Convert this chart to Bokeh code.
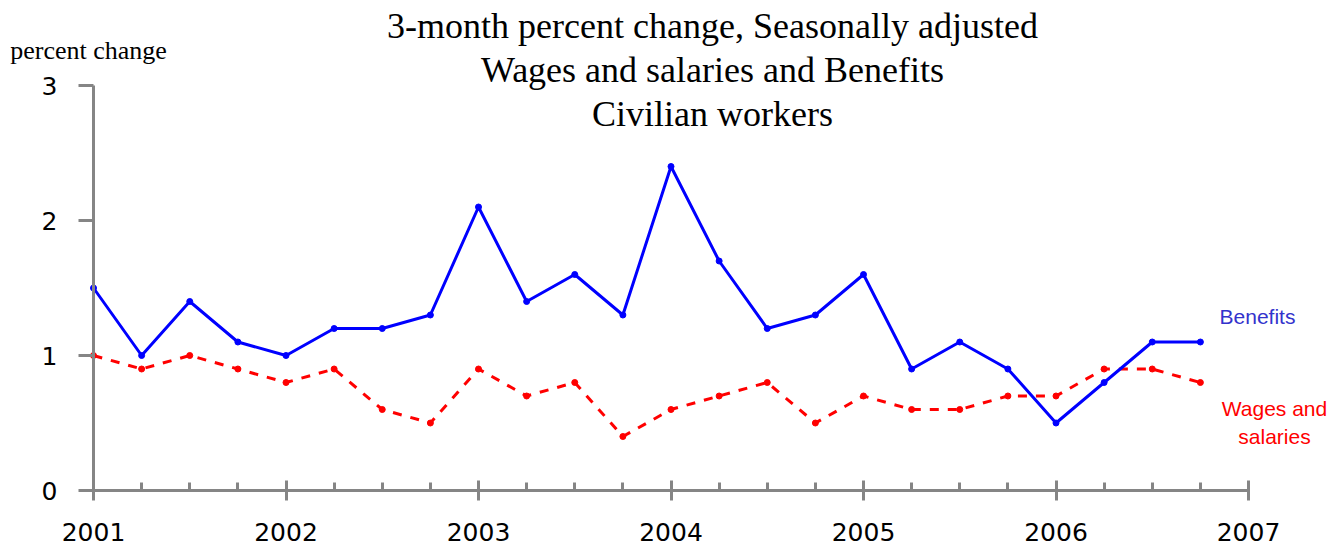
from bokeh.plotting import figure
from bokeh.models import Range1d, FixedTicker, Label, ColumnDataSource
from bokeh.embed import file_html
from bokeh.resources import INLINE

# ---- data ----
periods = [2001.00, 2001.25, 2001.50, 2001.75,
           2002.00, 2002.25, 2002.50, 2002.75,
           2003.00, 2003.25, 2003.50, 2003.75,
           2004.00, 2004.25, 2004.50, 2004.75,
           2005.00, 2005.25, 2005.50, 2005.75,
           2006.00, 2006.25, 2006.50, 2006.75]
benefits = [1.5, 1.0, 1.4, 1.1,
            1.0, 1.2, 1.2, 1.3,
            2.1, 1.4, 1.6, 1.3,
            2.4, 1.7, 1.2, 1.3,
            1.6, 0.9, 1.1, 0.9,
            0.5, 0.8, 1.1, 1.1]
wages = [1.0, 0.9, 1.0, 0.9,
         0.8, 0.9, 0.6, 0.5,
         0.9, 0.7, 0.8, 0.4,
         0.6, 0.7, 0.8, 0.5,
         0.7, 0.6, 0.6, 0.7,
         0.7, 0.9, 0.9, 0.8]
year_ticks = [2001, 2002, 2003, 2004, 2005, 2006, 2007]
quarter_ticks = [2001.25, 2001.5, 2001.75, 2002.25, 2002.5, 2002.75,
                 2003.25, 2003.5, 2003.75, 2004.25, 2004.5, 2004.75,
                 2005.25, 2005.5, 2005.75, 2006.25, 2006.5, 2006.75]
y_ticks = [0, 1, 2, 3]
title_lines = ["3-month percent change, Seasonally adjusted",
               "Wages and salaries and Benefits",
               "Civilian workers"]
y_label = "percent change"
series_names = ["Benefits", "Wages and\nsalaries"]

# ---- layout constants (pixel mapping) ----
W, H = 1340, 550
PX_PER_YEAR = 192.5
PX_PER_UNIT = 135.0
X_2001_PX = 93
Y_ZERO_PX = 490
x0 = 2001 - X_2001_PX / PX_PER_YEAR
x1 = x0 + W / PX_PER_YEAR
y_top = Y_ZERO_PX / PX_PER_UNIT
y_bot = y_top - H / PX_PER_UNIT

p = figure(width=W, height=H, output_backend="svg", toolbar_location=None,
           x_range=Range1d(x0, x1), y_range=Range1d(y_bot, y_top),
           min_border=0, min_border_left=0, min_border_right=0,
           min_border_top=0, min_border_bottom=0)
p.outline_line_color = None
p.grid.visible = False
p.background_fill_color = "white"
p.border_fill_color = "white"

src = ColumnDataSource(dict(x=periods, b=benefits, w=wages))

p.line("x", "w", source=src, line_color="#ff0000", line_width=3, line_dash="9 9")
p.scatter("x", "w", source=src, size=6, color="#ff0000")
p.line("x", "b", source=src, line_color="#0000ff", line_width=3)
p.scatter("x", "b", source=src, size=6, color="#0000ff")

axis_gray = "#858585"
xa = p.xaxis[0]
xa.fixed_location = 0
xa.bounds = (2001, 2007)
xa.ticker = FixedTicker(ticks=year_ticks, minor_ticks=quarter_ticks)
xa.axis_line_color = axis_gray
xa.axis_line_width = 3
xa.major_tick_line_color = axis_gray
xa.major_tick_line_width = 3
xa.major_tick_in = 10
xa.major_tick_out = 10
xa.minor_tick_line_color = axis_gray
xa.minor_tick_line_width = 3
xa.minor_tick_in = 8
xa.minor_tick_out = 0
xa.major_label_text_font = "DejaVu Sans"
xa.major_label_text_font_size = "25px"
xa.major_label_text_color = "black"
xa.major_label_standoff = 22

ya = p.yaxis[0]
ya.fixed_location = 2001
ya.bounds = (0, 3)
ya.ticker = FixedTicker(ticks=y_ticks, minor_ticks=[])
ya.axis_line_color = axis_gray
ya.axis_line_width = 3
ya.major_tick_line_color = axis_gray
ya.major_tick_line_width = 3
ya.major_tick_in = 0
ya.major_tick_out = 15
ya.minor_tick_in = 0
ya.minor_tick_out = 0
ya.major_label_text_font = "DejaVu Sans"
ya.major_label_text_font_size = "25px"
ya.major_label_text_color = "black"
ya.major_label_standoff = 21
ya.major_label_orientation = "horizontal"


def dx(px):
    return 2001 + (px - X_2001_PX) / PX_PER_YEAR


def dy(py):
    return (Y_ZERO_PX - py) / PX_PER_UNIT


for line, cy in zip(title_lines, [25, 69, 113]):
    p.add_layout(Label(x=dx(712), y=dy(cy), text=line, text_align="center",
                       text_baseline="middle", text_font="Liberation Serif",
                       text_font_size="36px", text_color="black"))

p.add_layout(Label(x=dx(88), y=dy(50), text=y_label, text_align="center",
                   text_baseline="middle", text_font="Liberation Serif",
                   text_font_size="26px", text_color="black"))

p.add_layout(Label(x=dx(1257), y=dy(316), text=series_names[0], text_align="center",
                   text_baseline="middle", text_font="Liberation Sans",
                   text_font_size="21px", text_color="#3333cc"))
p.add_layout(Label(x=dx(1274), y=dy(422), text=series_names[1], text_align="center",
                   text_baseline="middle", text_font="Liberation Sans",
                   text_font_size="21px", text_color="#ff0000"))

open("out.html", "w").write(file_html(p, INLINE))
